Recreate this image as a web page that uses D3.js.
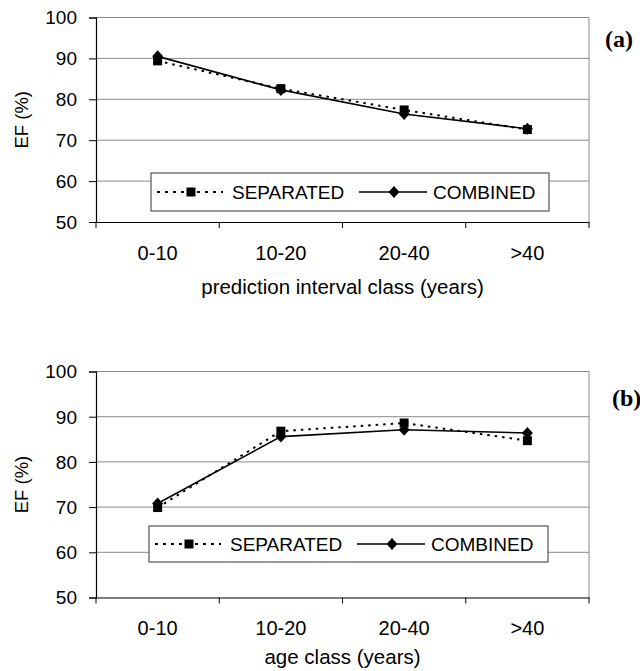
<!DOCTYPE html>
<html><head><meta charset="utf-8">
<script src="https://cdn.jsdelivr.net/npm/d3@7"></script>
<style>html,body{margin:0;padding:0;background:#fff;overflow:hidden}</style>
</head><body>
<script>
const categories = ["0-10", "10-20", "20-40", ">40"];
const yTicks = [50, 60, 70, 80, 90, 100];
const sepA = [89.4, 82.6, 77.4, 72.6];
const combA = [90.5, 82.3, 76.4, 72.8];
const sepB = [69.9, 86.8, 88.6, 84.7];
const combB = [70.8, 85.6, 87.1, 86.4];
const seriesNames = ["SEPARATED", "COMBINED"];
const titleA = "prediction interval class (years)";
const titleB = "age class (years)";
const yTitle = "EF (%)";

const W = 640, H = 671;
const FONT = "'Liberation Sans', Arial, sans-serif";
const svg = d3.select("body").append("svg").attr("width", W).attr("height", H);

function txt(g, x, y, s, size, anchor, extra) {
  return g.append("text")
    .attr("transform", `translate(${x},${y})` + (extra || ""))
    .attr("text-anchor", anchor).attr("font-family", FONT)
    .attr("font-size", size).attr("fill", "#000").text(s);
}

function diamondPath(w, h) {
  return `M0,${-h/2}L${w/2},0L0,${h/2}L${-w/2},0Z`;
}

function panel(p) {
  const g = svg.append("g");
  const x = d3.scaleBand().domain(categories).range([p.left, p.right]);
  const y = d3.scaleLinear().domain([50, 100]).range([p.bottom, p.top]);
  const cx = d => x(d) + x.bandwidth() / 2;

  // gridlines
  g.selectAll(".grid").data(yTicks.filter(v => v > 50)).join("line")
    .attr("x1", p.left).attr("x2", p.right)
    .attr("y1", d => y(d)).attr("y2", d => y(d))
    .attr("stroke", "#8a8a8a").attr("stroke-width", 1);
  g.append("line").attr("x1", p.right).attr("x2", p.right)
    .attr("y1", y(100)).attr("y2", y(50)).attr("stroke", "#8a8a8a");

  // y axis
  const ya = d3.axisLeft(y).tickValues(yTicks).tickSize(7).tickFormat("");
  const yg = g.append("g").attr("transform", `translate(${p.left},0)`).call(ya);
  yg.select(".domain").attr("stroke", "#000").attr("stroke-width", 1.2);
  yg.selectAll(".tick line").attr("stroke", "#000");
  yTicks.forEach(v => txt(g, p.left - 19, y(v) + 6.8, String(v), 19, "end"));

  // x axis
  const xa = d3.axisBottom(x).tickSize(0).tickFormat("");
  const xg = g.append("g").attr("transform", `translate(0,${p.bottom})`).call(xa);
  xg.select(".domain").attr("stroke", "#000").attr("stroke-width", 1.2);
  const edges = categories.map(c => x(c)).concat([p.right]);
  g.selectAll(".xt").data(edges).join("line")
    .attr("x1", d => d).attr("x2", d => d)
    .attr("y1", p.bottom).attr("y2", p.bottom + 6).attr("stroke", "#000");
  categories.forEach(c => txt(g, cx(c), p.tickY, c, 20, "middle"));
  txt(g, (p.left + p.right) / 2, p.titleY, p.title, 20.5, "middle");
  txt(g, 28, (p.top + p.bottom) / 2, yTitle, 18.5, "middle", " rotate(-90)");

  // lines
  const line = d3.line().x((d, i) => cx(categories[i])).y(d => y(d));
  g.append("path").attr("d", line(p.sep)).attr("fill", "none")
    .attr("stroke", "#000").attr("stroke-width", 2).attr("stroke-dasharray", "2.5,5");
  g.append("path").attr("d", line(p.comb)).attr("fill", "none")
    .attr("stroke", "#000").attr("stroke-width", 1.6);
  g.selectAll(".sq").data(p.sep).join("rect")
    .attr("x", (d, i) => cx(categories[i]) - 4.5).attr("y", d => y(d) - 4.5)
    .attr("width", 9).attr("height", 9).attr("fill", "#000");
  g.selectAll(".dm").data(p.comb).join("path")
    .attr("transform", (d, i) => `translate(${cx(categories[i])},${y(d)})`)
    .attr("d", diamondPath(11, 12)).attr("fill", "#000");

  // legend
  const L = p.legend;
  g.append("rect").attr("x", L.x).attr("y", L.y).attr("width", L.w).attr("height", L.h)
    .attr("fill", "#fff").attr("stroke", "#333").attr("stroke-width", 1);
  const ly = L.y + L.h / 2;
  g.append("line").attr("x1", L.x + 6).attr("x2", L.x + 72).attr("y1", ly).attr("y2", ly)
    .attr("stroke", "#000").attr("stroke-width", 2).attr("stroke-dasharray", "3,5");
  g.append("rect").attr("x", L.x + 40 - 4.5).attr("y", ly - 4.5).attr("width", 9).attr("height", 9).attr("fill", "#000");
  txt(g, L.x + 81, ly + 7, seriesNames[0], 19, "start");
  g.append("line").attr("x1", L.x + 208).attr("x2", L.x + 276).attr("y1", ly).attr("y2", ly)
    .attr("stroke", "#000").attr("stroke-width", 1.6);
  g.append("path").attr("transform", `translate(${L.x + 243},${ly})`).attr("d", diamondPath(11, 12)).attr("fill", "#000");
  txt(g, L.x + 282, ly + 7, seriesNames[1], 19, "start");

  // panel label
  g.append("text").attr("x", p.labX).attr("y", p.labY)
    .attr("font-family", "'Liberation Serif', 'Times New Roman', serif")
    .attr("font-weight", "bold").attr("font-size", 24).text(p.label);
}

panel({left: 96, right: 589, top: 17.5, bottom: 222, tickY: 259.5, titleY: 294, title: titleA,
  sep: sepA, comb: combA, legend: {x: 151, y: 173, w: 398, h: 38}, label: "(a)", labX: 605, labY: 47});
panel({left: 96, right: 589, top: 371.5, bottom: 597.5, tickY: 634.5, titleY: 664, title: titleB,
  sep: sepB, comb: combB, legend: {x: 149, y: 526, w: 399, h: 36}, label: "(b)", labX: 612, labY: 406});
</script>
</body></html>
